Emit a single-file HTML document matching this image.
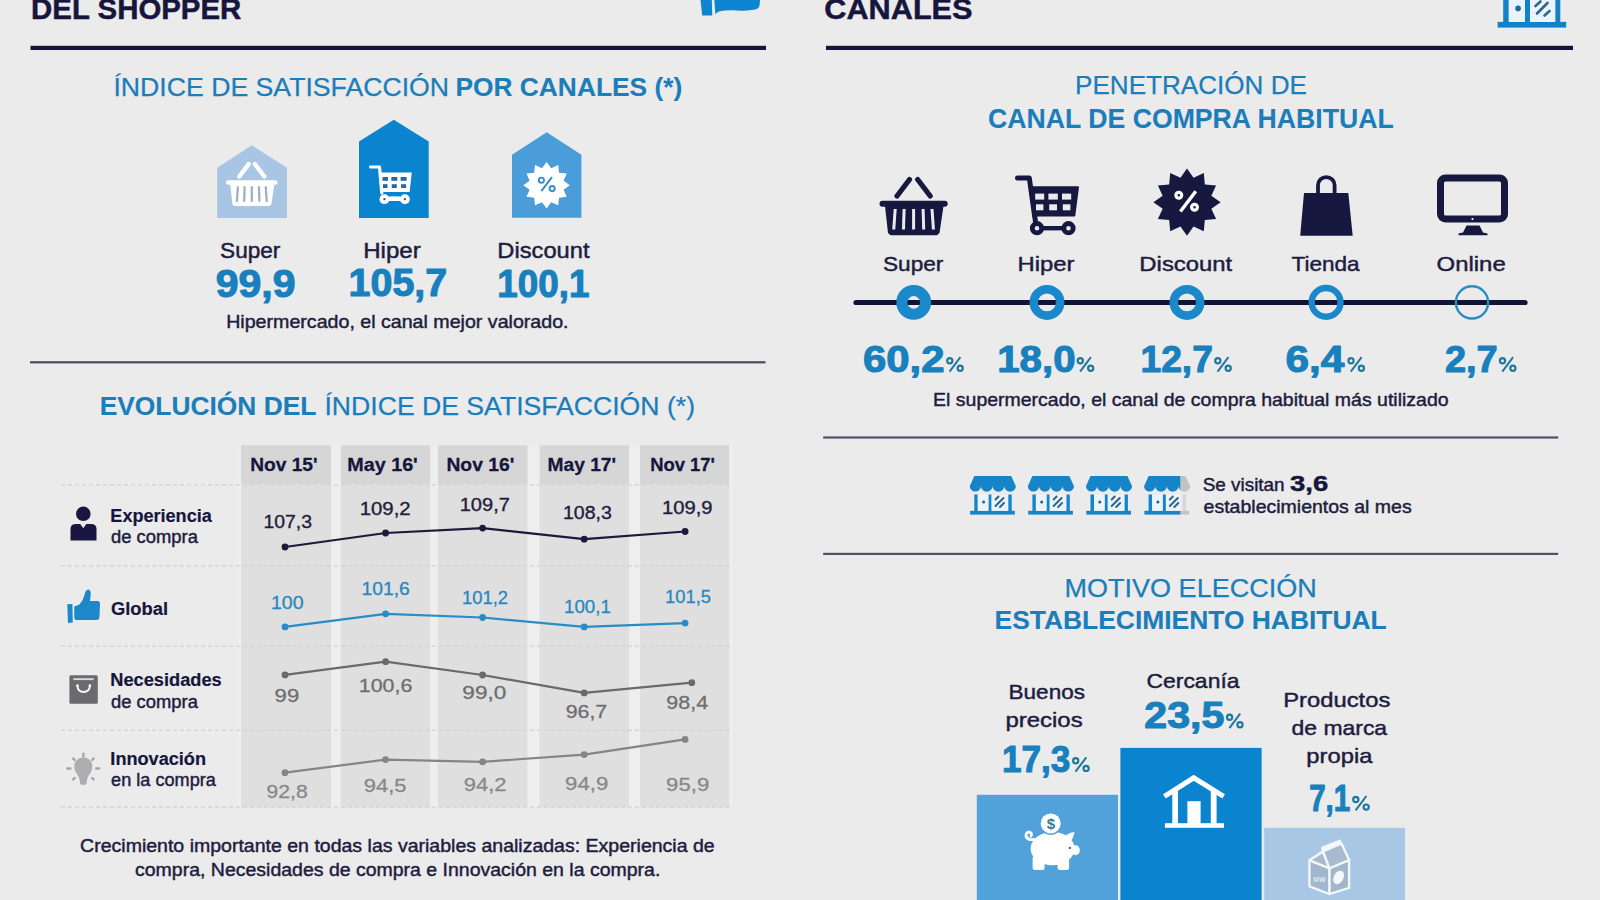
<!DOCTYPE html>
<html><head><meta charset="utf-8"><title>Shopper</title>
<style>html,body{margin:0;padding:0;background:#ebebeb;width:1600px;height:900px;overflow:hidden;font-family:"Liberation Sans",sans-serif;}</style>
</head><body>
<svg width="1600" height="900" viewBox="0 0 1600 900" style="display:block">
<rect x="0" y="0" width="1600" height="900" fill="#ebebeb"/>
<rect x="30.5" y="45.8" width="735.5" height="4.2" fill="#14143a"/>
<rect x="826" y="45.8" width="747" height="4.2" fill="#14143a"/>
<path d="M700.5,0 L711.8,0 L712.3,15.6 L702.2,15.6 Z" fill="#0c86d0"/>
<path d="M714.3,0 L760,0 L759.6,5 Q759,8.6 755,9.6 Q747,11.4 737,10.4 Q726,9.6 719,11.5 Q716.5,12.6 715.4,14.2 Z" fill="#0c86d0"/>
<rect x="1497.6" y="21.9" width="68.6" height="5.7" fill="#1282c8"/>
<rect x="1503.2" y="0" width="5.6" height="22" fill="#1282c8"/>
<rect x="1524.9" y="0" width="5.1" height="22" fill="#1282c8"/>
<rect x="1555.2" y="0" width="5.1" height="22" fill="#1282c8"/>
<rect x="1508.8" y="0" width="16.1" height="21.9" fill="#eaf3f9"/>
<rect x="1530" y="0" width="25.2" height="21.9" fill="#eaf3f9"/>
<circle cx="1518.1" cy="8.4" r="2.8" fill="#1b6aa0"/>
<line x1="1535.5" y1="6" x2="1540.5" y2="1.5" stroke="#2c6791" stroke-width="2.6" stroke-linecap="round"/>
<line x1="1537" y1="13.5" x2="1547.5" y2="3" stroke="#2c6791" stroke-width="2.6" stroke-linecap="round"/>
<line x1="1544.5" y1="15.5" x2="1549.5" y2="11" stroke="#2c6791" stroke-width="2.6" stroke-linecap="round"/>
<polygon points="217.2,167.7 251.7,145.2 287,167.7 287,218 217.2,218" fill="#a8c6e3"/>
<polygon points="359,141.5 393.8,119.8 428.7,141.5 428.7,218 359,218" fill="#0a84cf"/>
<polygon points="512,154.8 546.7,132.2 581.4,154.8 581.4,217.8 512,217.8" fill="#4a9dd8"/>
<line x1="248.70" y1="164.07" x2="239.27" y2="176.52" stroke="#ffffff" stroke-width="4.38" stroke-linecap="round"/>
<line x1="254.90" y1="164.07" x2="264.33" y2="176.52" stroke="#ffffff" stroke-width="4.38" stroke-linecap="round"/>
<rect x="226.05" y="180.15" width="51.49" height="4.53" rx="2.27" fill="#ffffff"/>
<polygon points="230.21,184.07 274.37,184.07 271.35,204.46 269.47,206.12 234.36,206.12 232.47,204.46" fill="#ffffff"/>
<line x1="237.91" y1="186.34" x2="236.82" y2="201.82" stroke="#9fb0c2" stroke-width="2.27" stroke-linecap="butt"/>
<line x1="244.63" y1="186.34" x2="244.17" y2="201.82" stroke="#9fb0c2" stroke-width="2.27" stroke-linecap="butt"/>
<line x1="251.80" y1="186.34" x2="251.80" y2="201.82" stroke="#9fb0c2" stroke-width="2.27" stroke-linecap="butt"/>
<line x1="258.97" y1="186.34" x2="259.43" y2="201.82" stroke="#9fb0c2" stroke-width="2.27" stroke-linecap="butt"/>
<line x1="265.69" y1="186.34" x2="266.78" y2="201.82" stroke="#9fb0c2" stroke-width="2.27" stroke-linecap="butt"/>
<path d="M370.5,167 L379.5,167 L381.8,193" fill="none" stroke="#ffffff" stroke-width="3.2" stroke-linecap="round" stroke-linejoin="round"/>
<path d="M379.3,172.5 L411.8,172.5 L409.6,192 L381.5,192 Z" fill="#ffffff"/>
<rect x="382.5" y="177" width="5.5" height="3.8" fill="#2568a6"/>
<rect x="383.0" y="184.2" width="4.5" height="3.8" fill="#2568a6"/>
<rect x="391.3" y="177" width="6.0" height="3.8" fill="#2568a6"/>
<rect x="391.8" y="184.2" width="5.0" height="3.8" fill="#2568a6"/>
<rect x="400.6" y="177" width="6.0" height="3.8" fill="#2568a6"/>
<rect x="401.1" y="184.2" width="5.0" height="3.8" fill="#2568a6"/>
<path d="M384,197.3 Q394.5,195.3 405,197.3 L405,201 L384,201 Z" fill="#ffffff"/>
<circle cx="384.4" cy="199.2" r="4.9" fill="#ffffff"/>
<circle cx="384.4" cy="199.2" r="1.1" fill="#3b4d5e"/>
<circle cx="404.9" cy="199.2" r="4.9" fill="#ffffff"/>
<circle cx="404.9" cy="199.2" r="1.1" fill="#3b4d5e"/>
<polygon points="546.60,162.00 551.16,168.20 558.20,165.11 559.05,172.75 566.69,173.60 563.60,180.64 569.80,185.20 563.60,189.76 566.69,196.80 559.05,197.65 558.20,205.29 551.16,202.20 546.60,208.40 542.04,202.20 535.00,205.29 534.15,197.65 526.51,196.80 529.60,189.76 523.40,185.20 529.60,180.64 526.51,173.60 534.15,172.75 535.00,165.11 542.04,168.20" fill="#ffffff"/>
<circle cx="541.4" cy="180.2" r="2.6" fill="none" stroke="#3a8cc6" stroke-width="1.9"/>
<circle cx="552.2" cy="188.6" r="2.6" fill="none" stroke="#3a8cc6" stroke-width="1.9"/>
<line x1="552" y1="177.2" x2="541.3" y2="191.2" stroke="#3a8cc6" stroke-width="2"/>
<rect x="30" y="361.2" width="735.5" height="2.2" fill="#4a4a5e"/>
<rect x="238" y="445.3" width="494" height="362.5" fill="#eeeeee"/>
<rect x="241" y="445.3" width="90.0" height="39.2" fill="#d6d6d7"/>
<rect x="241" y="484.5" width="90.0" height="323" fill="#dfdfdf"/>
<rect x="340.7" y="445.3" width="89.5" height="39.2" fill="#d6d6d7"/>
<rect x="340.7" y="484.5" width="89.5" height="323" fill="#dfdfdf"/>
<rect x="437.9" y="445.3" width="89.6" height="39.2" fill="#d6d6d7"/>
<rect x="437.9" y="484.5" width="89.6" height="323" fill="#dfdfdf"/>
<rect x="539.7" y="445.3" width="89.3" height="39.2" fill="#d6d6d7"/>
<rect x="539.7" y="484.5" width="89.3" height="323" fill="#dfdfdf"/>
<rect x="640" y="445.3" width="89.2" height="39.2" fill="#d6d6d7"/>
<rect x="640" y="484.5" width="89.2" height="323" fill="#dfdfdf"/>
<line x1="61" y1="484.9" x2="732" y2="484.9" stroke="#d2d2d4" stroke-width="1.3" stroke-dasharray="4,3"/>
<line x1="61" y1="565.8" x2="732" y2="565.8" stroke="#d2d2d4" stroke-width="1.3" stroke-dasharray="4,3"/>
<line x1="61" y1="646.1" x2="732" y2="646.1" stroke="#d2d2d4" stroke-width="1.3" stroke-dasharray="4,3"/>
<line x1="61" y1="730.3" x2="732" y2="730.3" stroke="#d2d2d4" stroke-width="1.3" stroke-dasharray="4,3"/>
<line x1="61" y1="807.2" x2="732" y2="807.2" stroke="#d2d2d4" stroke-width="1.3" stroke-dasharray="4,3"/>
<polyline points="285.0,547.0 385.6,533.0 482.6,528.1 584.2,539.2 685.1,531.5" fill="none" stroke="#1c1a3b" stroke-width="2.2" stroke-linejoin="round"/>
<circle cx="285.0" cy="547.0" r="3.4" fill="#1c1a3b"/>
<circle cx="385.6" cy="533.0" r="3.4" fill="#1c1a3b"/>
<circle cx="482.6" cy="528.1" r="3.4" fill="#1c1a3b"/>
<circle cx="584.2" cy="539.2" r="3.4" fill="#1c1a3b"/>
<circle cx="685.1" cy="531.5" r="3.4" fill="#1c1a3b"/>
<polyline points="285.0,626.9 385.6,613.8 482.6,617.5 584.2,626.9 685.1,623.1" fill="none" stroke="#2a8cc5" stroke-width="2.2" stroke-linejoin="round"/>
<circle cx="285.0" cy="626.9" r="3.4" fill="#2a8cc5"/>
<circle cx="385.6" cy="613.8" r="3.4" fill="#2a8cc5"/>
<circle cx="482.6" cy="617.5" r="3.4" fill="#2a8cc5"/>
<circle cx="584.2" cy="626.9" r="3.4" fill="#2a8cc5"/>
<circle cx="685.1" cy="623.1" r="3.4" fill="#2a8cc5"/>
<polyline points="285.0,674.9 385.6,661.7 482.6,675.0 584.2,692.9 691.8,682.7" fill="none" stroke="#6a6a6d" stroke-width="2.2" stroke-linejoin="round"/>
<circle cx="285.0" cy="674.9" r="3.4" fill="#6a6a6d"/>
<circle cx="385.6" cy="661.7" r="3.4" fill="#6a6a6d"/>
<circle cx="482.6" cy="675.0" r="3.4" fill="#6a6a6d"/>
<circle cx="584.2" cy="692.9" r="3.4" fill="#6a6a6d"/>
<circle cx="691.8" cy="682.7" r="3.4" fill="#6a6a6d"/>
<polyline points="285.0,772.7 385.6,759.6 482.6,761.8 584.2,754.6 685.1,739.4" fill="none" stroke="#858588" stroke-width="2.2" stroke-linejoin="round"/>
<circle cx="285.0" cy="772.7" r="3.4" fill="#858588"/>
<circle cx="385.6" cy="759.6" r="3.4" fill="#858588"/>
<circle cx="482.6" cy="761.8" r="3.4" fill="#858588"/>
<circle cx="584.2" cy="754.6" r="3.4" fill="#858588"/>
<circle cx="685.1" cy="739.4" r="3.4" fill="#858588"/>
<circle cx="83.3" cy="513.8" r="7.3" fill="#1b1541"/>
<path d="M70.5,540.4 L70.5,529 Q70.5,524 76,524 L80.2,524 L83.3,528.2 L86.3,524 L91,524 Q96.5,524 96.5,529 L96.5,540.4 Z" fill="#1b1541"/>
<path d="M67.3,604.3 L72.4,604 L72.8,622.6 L68,623 Z" fill="#1c88c9"/>
<path d="M74.3,606.5 L79.5,604.5 Q83,601 84.5,595 Q85.5,589.6 88.6,589.6 Q91.3,590.3 90.6,596 L90,601 L97.6,601 Q100.2,601.4 100,604.3 L99.4,617.5 Q99,620 96,620 L76.2,620 Q74.3,620 74.3,618 Z" fill="#1c88c9"/>
<rect x="69.4" y="675.2" width="28.4" height="28.6" rx="1.5" fill="#6b6b6d"/>
<rect x="73.3" y="678.2" width="20.4" height="1.9" fill="#d9d9da"/>
<path d="M77.4,685.9 Q77.8,692 83.5,692 Q89.4,692 89.9,685.9" fill="none" stroke="#f4f4f4" stroke-width="2"/>
<circle cx="77.4" cy="685.6" r="1.3" fill="#ffffff"/><circle cx="89.9" cy="685.6" r="1.3" fill="#ffffff"/>
<path d="M83.3,757.3 A9.2,9.2 0 0 1 92.4,766.5 Q92.4,771 89,775 Q87,777.5 86.8,781 L86.5,784 Q83.3,786.2 80.1,784 L79.8,781 Q79.6,777.5 77.6,775 Q74.2,771 74.2,766.5 A9.2,9.2 0 0 1 83.3,757.3 Z" fill="#adadaf"/>
<line x1="83.4" y1="753.6" x2="83.4" y2="756.2" stroke="#a4a4a6" stroke-width="2.4" stroke-linecap="round"/>
<line x1="73.2" y1="758.6" x2="74.6" y2="760" stroke="#a4a4a6" stroke-width="2.4" stroke-linecap="round"/>
<line x1="93.6" y1="758.6" x2="92.2" y2="760" stroke="#a4a4a6" stroke-width="2.4" stroke-linecap="round"/>
<line x1="67.5" y1="768.5" x2="70.3" y2="768.5" stroke="#a4a4a6" stroke-width="2.4" stroke-linecap="round"/>
<line x1="96.3" y1="768.5" x2="99.1" y2="768.5" stroke="#a4a4a6" stroke-width="2.4" stroke-linecap="round"/>
<line x1="73.2" y1="779.4" x2="74.6" y2="778" stroke="#a4a4a6" stroke-width="2.4" stroke-linecap="round"/>
<line x1="93.6" y1="779.4" x2="92.2" y2="778" stroke="#a4a4a6" stroke-width="2.4" stroke-linecap="round"/>
<line x1="909.50" y1="179.50" x2="897.00" y2="196.00" stroke="#161840" stroke-width="5.20" stroke-linecap="round"/>
<line x1="917.70" y1="179.50" x2="930.20" y2="196.00" stroke="#161840" stroke-width="5.20" stroke-linecap="round"/>
<rect x="879.50" y="200.80" width="68.20" height="6.00" rx="3.00" fill="#161840"/>
<polygon points="885.00,206.00 943.50,206.00 939.50,233.00 937.00,235.20 890.50,235.20 888.00,233.00" fill="#161840"/>
<line x1="895.20" y1="209.00" x2="893.76" y2="229.50" stroke="#ebebeb" stroke-width="3.00" stroke-linecap="butt"/>
<line x1="904.10" y1="209.00" x2="903.50" y2="229.50" stroke="#ebebeb" stroke-width="3.00" stroke-linecap="butt"/>
<line x1="913.60" y1="209.00" x2="913.60" y2="229.50" stroke="#ebebeb" stroke-width="3.00" stroke-linecap="butt"/>
<line x1="923.10" y1="209.00" x2="923.70" y2="229.50" stroke="#ebebeb" stroke-width="3.00" stroke-linecap="butt"/>
<line x1="932.00" y1="209.00" x2="933.44" y2="229.50" stroke="#ebebeb" stroke-width="3.00" stroke-linecap="butt"/>
<path d="M1017.5,178 L1029.3,178 L1034.6,216" fill="none" stroke="#161840" stroke-width="5" stroke-linecap="round" stroke-linejoin="round"/>
<path d="M1030.8,187.2 L1078,187.2 L1074.3,215.6 L1034.3,215.6 Z" fill="#161840" stroke="#161840" stroke-width="2" stroke-linejoin="round"/>
<rect x="1035.2" y="193.6" width="9.0" height="6" fill="#ebebeb"/>
<rect x="1036.0" y="204.3" width="7.4" height="6" fill="#ebebeb"/>
<rect x="1048.4" y="193.6" width="9.4" height="6" fill="#ebebeb"/>
<rect x="1049.2" y="204.3" width="7.8" height="6" fill="#ebebeb"/>
<rect x="1062" y="193.6" width="9.2" height="6" fill="#ebebeb"/>
<rect x="1062.8" y="204.3" width="7.6" height="6" fill="#ebebeb"/>
<path d="M1034.6,215 L1035.5,222" stroke="#161840" stroke-width="5" stroke-linecap="round"/>
<line x1="1041" y1="228.2" x2="1064.5" y2="228.2" stroke="#161840" stroke-width="4.4"/>
<circle cx="1037" cy="228.2" r="4.7" fill="none" stroke="#161840" stroke-width="4.8"/>
<circle cx="1068.5" cy="228.2" r="4.7" fill="none" stroke="#161840" stroke-width="4.8"/>
<polygon points="1187.00,168.60 1193.52,177.86 1203.80,173.10 1204.82,184.38 1216.10,185.40 1211.34,195.68 1220.60,202.20 1211.34,208.72 1216.10,219.00 1204.82,220.02 1203.80,231.30 1193.52,226.54 1187.00,235.80 1180.48,226.54 1170.20,231.30 1169.18,220.02 1157.90,219.00 1162.66,208.72 1153.40,202.20 1162.66,195.68 1157.90,185.40 1169.18,184.38 1170.20,173.10 1180.48,177.86" fill="#161840"/>
<circle cx="1178.8" cy="195.3" r="2.9" fill="none" stroke="#ffffff" stroke-width="3.2"/>
<circle cx="1194.5" cy="207.3" r="2.9" fill="none" stroke="#ffffff" stroke-width="3.2"/>
<line x1="1195.8" y1="191.2" x2="1180.4" y2="211.6" stroke="#ffffff" stroke-width="3.4"/>
<path d="M1318,193.5 L1318,185.3 A8.3,8.3 0 0 1 1334.6,185.3 L1334.6,193.5" fill="none" stroke="#161840" stroke-width="3.8"/>
<path d="M1304,193 L1348.3,193 L1352.7,235.7 L1300.2,235.7 Z" fill="#161840"/>
<rect x="1440.5" y="178" width="64" height="41" rx="5" fill="none" stroke="#161840" stroke-width="7"/>
<circle cx="1472.5" cy="219" r="1.1" fill="#ffffff"/>
<path d="M1466.5,225.5 L1479.5,225.5 L1483,232.5 L1487.5,233.5 L1487.5,235.2 L1458.5,235.2 L1458.5,233.5 L1463,232.5 Z" fill="#161840"/>
<line x1="856" y1="302.5" x2="1525" y2="302.5" stroke="#111436" stroke-width="5.2" stroke-linecap="round"/>
<circle cx="913.7" cy="302.4" r="11.85" fill="none" stroke="#1a88c9" stroke-width="11.10"/>
<circle cx="1047" cy="302.4" r="13.20" fill="none" stroke="#1a88c9" stroke-width="8.60"/>
<circle cx="1187" cy="302.4" r="13.20" fill="none" stroke="#1a88c9" stroke-width="8.60"/>
<circle cx="1326.1" cy="302.4" r="14.40" fill="none" stroke="#1a88c9" stroke-width="6.40"/>
<circle cx="1472" cy="302.4" r="16.10" fill="none" stroke="#2a8cbf" stroke-width="2.40"/>
<rect x="823.2" y="436.4" width="735" height="2.2" fill="#50506a"/>
<rect x="823.2" y="552.8" width="735" height="2.2" fill="#50506a"/>
<defs><clipPath id="clipL"><rect x="0" y="0" width="1180.6" height="900"/></clipPath><clipPath id="clipR"><rect x="1180.6" y="0" width="100" height="900"/></clipPath></defs>
<path d="M974.30,475.90 L1011.20,475.90 L1015.90,486.30 A5.80,5.34 0 0 1 1004.30,486.30 A5.85,5.38 0 0 1 992.60,486.30 A5.85,5.38 0 0 1 980.90,486.30 A5.57,5.13 0 0 1 969.75,486.30 L974.30,475.90 Z" fill="#1584c9"/>
<rect x="974.30" y="494.50" width="3.50" height="17.00" fill="#1584c9"/>
<rect x="988.40" y="494.50" width="3.20" height="17.00" fill="#1584c9"/>
<rect x="1008.20" y="494.50" width="3.50" height="17.00" fill="#1584c9"/>
<rect x="970.10" y="510.80" width="44.70" height="3.80" fill="#1584c9"/>
<rect x="977.80" y="494.50" width="10.60" height="16.30" fill="#e9f3f9"/>
<rect x="991.60" y="494.50" width="16.60" height="16.30" fill="#e9f3f9"/>
<circle cx="983.60" cy="501.90" r="1.5" fill="#2b5f86"/>
<line x1="995.50" y1="499.50" x2="998.50" y2="496.50" stroke="#2d628a" stroke-width="1.9" stroke-linecap="round"/>
<line x1="995.50" y1="506.00" x2="1003.50" y2="498.00" stroke="#2d628a" stroke-width="1.9" stroke-linecap="round"/>
<line x1="1000.00" y1="507.00" x2="1004.00" y2="503.00" stroke="#2d628a" stroke-width="1.9" stroke-linecap="round"/>
<path d="M1032.40,475.90 L1069.30,475.90 L1074.00,486.30 A5.80,5.34 0 0 1 1062.40,486.30 A5.85,5.38 0 0 1 1050.70,486.30 A5.85,5.38 0 0 1 1039.00,486.30 A5.57,5.13 0 0 1 1027.85,486.30 L1032.40,475.90 Z" fill="#1584c9"/>
<rect x="1032.40" y="494.50" width="3.50" height="17.00" fill="#1584c9"/>
<rect x="1046.50" y="494.50" width="3.20" height="17.00" fill="#1584c9"/>
<rect x="1066.30" y="494.50" width="3.50" height="17.00" fill="#1584c9"/>
<rect x="1028.20" y="510.80" width="44.70" height="3.80" fill="#1584c9"/>
<rect x="1035.90" y="494.50" width="10.60" height="16.30" fill="#e9f3f9"/>
<rect x="1049.70" y="494.50" width="16.60" height="16.30" fill="#e9f3f9"/>
<circle cx="1041.70" cy="501.90" r="1.5" fill="#2b5f86"/>
<line x1="1053.60" y1="499.50" x2="1056.60" y2="496.50" stroke="#2d628a" stroke-width="1.9" stroke-linecap="round"/>
<line x1="1053.60" y1="506.00" x2="1061.60" y2="498.00" stroke="#2d628a" stroke-width="1.9" stroke-linecap="round"/>
<line x1="1058.10" y1="507.00" x2="1062.10" y2="503.00" stroke="#2d628a" stroke-width="1.9" stroke-linecap="round"/>
<path d="M1090.50,475.90 L1127.40,475.90 L1132.10,486.30 A5.80,5.34 0 0 1 1120.50,486.30 A5.85,5.38 0 0 1 1108.80,486.30 A5.85,5.38 0 0 1 1097.10,486.30 A5.57,5.13 0 0 1 1085.95,486.30 L1090.50,475.90 Z" fill="#1584c9"/>
<rect x="1090.50" y="494.50" width="3.50" height="17.00" fill="#1584c9"/>
<rect x="1104.60" y="494.50" width="3.20" height="17.00" fill="#1584c9"/>
<rect x="1124.40" y="494.50" width="3.50" height="17.00" fill="#1584c9"/>
<rect x="1086.30" y="510.80" width="44.70" height="3.80" fill="#1584c9"/>
<rect x="1094.00" y="494.50" width="10.60" height="16.30" fill="#e9f3f9"/>
<rect x="1107.80" y="494.50" width="16.60" height="16.30" fill="#e9f3f9"/>
<circle cx="1099.80" cy="501.90" r="1.5" fill="#2b5f86"/>
<line x1="1111.70" y1="499.50" x2="1114.70" y2="496.50" stroke="#2d628a" stroke-width="1.9" stroke-linecap="round"/>
<line x1="1111.70" y1="506.00" x2="1119.70" y2="498.00" stroke="#2d628a" stroke-width="1.9" stroke-linecap="round"/>
<line x1="1116.20" y1="507.00" x2="1120.20" y2="503.00" stroke="#2d628a" stroke-width="1.9" stroke-linecap="round"/>
<g clip-path="url(#clipL)"><path d="M1148.60,475.90 L1185.50,475.90 L1190.20,486.30 A5.80,5.34 0 0 1 1178.60,486.30 A5.85,5.38 0 0 1 1166.90,486.30 A5.85,5.38 0 0 1 1155.20,486.30 A5.57,5.13 0 0 1 1144.05,486.30 L1148.60,475.90 Z" fill="#1584c9"/>
<rect x="1148.60" y="494.50" width="3.50" height="17.00" fill="#1584c9"/>
<rect x="1162.70" y="494.50" width="3.20" height="17.00" fill="#1584c9"/>
<rect x="1182.50" y="494.50" width="3.50" height="17.00" fill="#1584c9"/>
<rect x="1144.40" y="510.80" width="44.70" height="3.80" fill="#1584c9"/>
<rect x="1152.10" y="494.50" width="10.60" height="16.30" fill="#e9f3f9"/>
<rect x="1165.90" y="494.50" width="16.60" height="16.30" fill="#e9f3f9"/>
<circle cx="1157.90" cy="501.90" r="1.5" fill="#2b5f86"/>
<line x1="1169.80" y1="499.50" x2="1172.80" y2="496.50" stroke="#2d628a" stroke-width="1.9" stroke-linecap="round"/>
<line x1="1169.80" y1="506.00" x2="1177.80" y2="498.00" stroke="#2d628a" stroke-width="1.9" stroke-linecap="round"/>
<line x1="1174.30" y1="507.00" x2="1178.30" y2="503.00" stroke="#2d628a" stroke-width="1.9" stroke-linecap="round"/></g>
<g clip-path="url(#clipR)"><path d="M1148.60,475.90 L1185.50,475.90 L1190.20,486.30 A5.80,5.34 0 0 1 1178.60,486.30 A5.85,5.38 0 0 1 1166.90,486.30 A5.85,5.38 0 0 1 1155.20,486.30 A5.57,5.13 0 0 1 1144.05,486.30 L1148.60,475.90 Z" fill="#c3c3c5"/>
<rect x="1148.60" y="494.50" width="3.50" height="17.00" fill="#c3c3c5"/>
<rect x="1162.70" y="494.50" width="3.20" height="17.00" fill="#c3c3c5"/>
<rect x="1182.50" y="494.50" width="3.50" height="17.00" fill="#d6d6d8"/>
<rect x="1144.40" y="510.80" width="44.70" height="3.80" fill="#c3c3c5"/>
<rect x="1152.10" y="494.50" width="10.60" height="16.30" fill="#ebebeb"/>
<rect x="1165.90" y="494.50" width="16.60" height="16.30" fill="#ebebeb"/>
<circle cx="1157.90" cy="501.90" r="1.5" fill="#2b5f86"/>
<line x1="1169.80" y1="499.50" x2="1172.80" y2="496.50" stroke="#2d628a" stroke-width="1.9" stroke-linecap="round"/>
<line x1="1169.80" y1="506.00" x2="1177.80" y2="498.00" stroke="#2d628a" stroke-width="1.9" stroke-linecap="round"/>
<line x1="1174.30" y1="507.00" x2="1178.30" y2="503.00" stroke="#2d628a" stroke-width="1.9" stroke-linecap="round"/></g>
<rect x="976.8" y="794.8" width="141.2" height="106" fill="#51a2da"/>
<rect x="1120.4" y="747.9" width="141.2" height="153" fill="#0a84cf"/>
<rect x="1264.2" y="827.8" width="140.8" height="73" fill="#a8c7e4"/>
<ellipse cx="1052.6" cy="848.6" rx="22" ry="16.6" fill="#ffffff"/>
<ellipse cx="1075.6" cy="850.2" rx="4.2" ry="5" fill="#ffffff"/>
<path d="M1063.5,840 Q1066,832.5 1074.6,832 Q1073.5,838 1070,842.5 Z" fill="#ffffff"/>
<rect x="1032.6" y="856" width="12" height="14" rx="2.5" fill="#ffffff"/>
<rect x="1057.6" y="856" width="11.5" height="14" rx="2.5" fill="#ffffff"/>
<path d="M1034,839.5 Q1028,840.5 1026,836.5 Q1025.5,832 1029.5,832 Q1032.5,833 1031,836" fill="none" stroke="#ffffff" stroke-width="2.8" stroke-linecap="round"/>
<circle cx="1050.7" cy="823.4" r="11.6" fill="#51a2da"/>
<circle cx="1050.7" cy="823.4" r="10" fill="#ffffff"/>
<text x="1050.9" y="829.2" font-family="Liberation Sans, sans-serif" font-weight="bold" font-size="15" fill="#2c7c9c" text-anchor="middle">$</text>
<circle cx="1069.9" cy="847.9" r="1.2" fill="#6a6a5a"/>
<path d="M1166.5,795 L1193.7,777.8 L1221.5,795" fill="none" stroke="#ffffff" stroke-width="5" stroke-linecap="square" stroke-linejoin="miter"/>
<rect x="1172.3" y="790" width="5.7" height="34" fill="#ffffff"/>
<rect x="1210.8" y="790" width="5.8" height="34" fill="#ffffff"/>
<rect x="1187.4" y="801.2" width="13.2" height="23" fill="#ffffff"/>
<rect x="1164.9" y="823.2" width="59.1" height="4.6" fill="#ffffff"/>
<polygon points="1309.4,860.3 1329.5,868.3 1329.5,894 1309.4,886.4" fill="#a2b7cc" stroke="#f4f8fb" stroke-width="2.3" stroke-linejoin="round"/>
<polygon points="1329.5,868.3 1349.1,860 1349.1,887.9 1329.5,894" fill="#a2b7cc" stroke="#f4f8fb" stroke-width="2.3" stroke-linejoin="round"/>
<polygon points="1309.4,860.3 1323,851.5 1329.5,868.3" fill="#a6bbd0" stroke="#f4f8fb" stroke-width="2.3" stroke-linejoin="round"/>
<polygon points="1323,851.5 1341.5,843.5 1349.1,860 1329.5,868.3" fill="#a6bbd0" stroke="#f4f8fb" stroke-width="2.3" stroke-linejoin="round"/>
<polygon points="1322.2,851 1321.8,847.4 1340.2,840 1341.6,843.6" fill="#f4f8fb" stroke="#f4f8fb" stroke-width="1.2" stroke-linejoin="round"/>
<ellipse cx="1338.6" cy="877.4" rx="4.8" ry="7.2" transform="rotate(28 1338.6 877.4)" fill="#f4f8fb"/>
<text x="1319.6" y="881.5" font-family="Liberation Sans, sans-serif" font-weight="bold" font-size="7.5" fill="#dfe8f1" text-anchor="middle" textLength="12" lengthAdjust="spacingAndGlyphs">MW</text>
<g font-family="Liberation Sans, sans-serif">
<text x="31.12" y="18.70" font-size="30.00" font-weight="bold" fill="#16163d" stroke="#16163d" stroke-width="0.5" stroke-linejoin="round" textLength="210.19" lengthAdjust="spacingAndGlyphs">DEL SHOPPER</text>
<text x="113.46" y="95.60" font-size="25.71" fill="#1b7db9" stroke="#1b7db9" stroke-width="0.25" stroke-linejoin="round" textLength="335.59" lengthAdjust="spacingAndGlyphs">ÍNDICE DE SATISFACCIÓN</text>
<text x="455.40" y="95.60" font-size="25.71" font-weight="bold" fill="#1b7db9" stroke="#1b7db9" stroke-width="0.1" stroke-linejoin="round" textLength="226.90" lengthAdjust="spacingAndGlyphs">POR CANALES (*)</text>
<text x="220.12" y="258.20" font-size="21.71" fill="#1e1d40" stroke="#1e1d40" stroke-width="0.45" stroke-linejoin="round" textLength="60.27" lengthAdjust="spacingAndGlyphs">Super</text>
<text x="363.24" y="258.30" font-size="21.71" fill="#1e1d40" stroke="#1e1d40" stroke-width="0.45" stroke-linejoin="round" textLength="57.55" lengthAdjust="spacingAndGlyphs">Hiper</text>
<text x="497.38" y="258.30" font-size="21.71" fill="#1e1d40" stroke="#1e1d40" stroke-width="0.45" stroke-linejoin="round" textLength="92.12" lengthAdjust="spacingAndGlyphs">Discount</text>
<text x="215.77" y="296.70" font-size="37.86" font-weight="bold" fill="#1880bd" stroke="#1880bd" stroke-width="1.1" stroke-linejoin="round" textLength="79.70" lengthAdjust="spacingAndGlyphs">99,9</text>
<text x="348.59" y="296.40" font-size="37.86" font-weight="bold" fill="#1880bd" stroke="#1880bd" stroke-width="1.1" stroke-linejoin="round" textLength="98.56" lengthAdjust="spacingAndGlyphs">105,7</text>
<text x="497.25" y="296.50" font-size="37.86" font-weight="bold" fill="#1880bd" stroke="#1880bd" stroke-width="1.1" stroke-linejoin="round" textLength="92.12" lengthAdjust="spacingAndGlyphs">100,1</text>
<text x="226.19" y="328.30" font-size="18.57" fill="#1e1d40" stroke="#1e1d40" stroke-width="0.45" stroke-linejoin="round" textLength="342.35" lengthAdjust="spacingAndGlyphs">Hipermercado, el canal mejor valorado.</text>
<text x="99.65" y="414.50" font-size="26.00" font-weight="bold" fill="#1b7db9" stroke="#1b7db9" stroke-width="0.1" stroke-linejoin="round" textLength="216.75" lengthAdjust="spacingAndGlyphs">EVOLUCIÓN DEL</text>
<text x="324.46" y="414.50" font-size="26.00" fill="#1b7db9" stroke="#1b7db9" stroke-width="0.25" stroke-linejoin="round" textLength="370.54" lengthAdjust="spacingAndGlyphs">ÍNDICE DE SATISFACCIÓN (*)</text>
<text x="250.25" y="471.00" font-size="19.00" font-weight="bold" fill="#16163d" stroke="#16163d" stroke-width="0.3" stroke-linejoin="round" textLength="67.26" lengthAdjust="spacingAndGlyphs">Nov 15'</text>
<text x="347.21" y="471.00" font-size="19.00" font-weight="bold" fill="#16163d" stroke="#16163d" stroke-width="0.3" stroke-linejoin="round" textLength="70.63" lengthAdjust="spacingAndGlyphs">May 16'</text>
<text x="446.44" y="471.00" font-size="19.00" font-weight="bold" fill="#16163d" stroke="#16163d" stroke-width="0.3" stroke-linejoin="round" textLength="67.88" lengthAdjust="spacingAndGlyphs">Nov 16'</text>
<text x="547.55" y="471.00" font-size="19.00" font-weight="bold" fill="#16163d" stroke="#16163d" stroke-width="0.3" stroke-linejoin="round" textLength="68.56" lengthAdjust="spacingAndGlyphs">May 17'</text>
<text x="650.20" y="471.00" font-size="19.00" font-weight="bold" fill="#16163d" stroke="#16163d" stroke-width="0.3" stroke-linejoin="round" textLength="64.78" lengthAdjust="spacingAndGlyphs">Nov 17'</text>
<text x="110.37" y="521.70" font-size="18.29" font-weight="bold" fill="#16163d" stroke="#16163d" stroke-width="0.2" stroke-linejoin="round" textLength="101.41" lengthAdjust="spacingAndGlyphs">Experiencia</text>
<text x="111.05" y="543.30" font-size="18.29" fill="#1e1d40" stroke="#1e1d40" stroke-width="0.45" stroke-linejoin="round" textLength="86.91" lengthAdjust="spacingAndGlyphs">de compra</text>
<text x="110.93" y="615.00" font-size="18.29" font-weight="bold" fill="#16163d" stroke="#16163d" stroke-width="0.2" stroke-linejoin="round" textLength="57.06" lengthAdjust="spacingAndGlyphs">Global</text>
<text x="110.36" y="686.30" font-size="18.29" font-weight="bold" fill="#16163d" stroke="#16163d" stroke-width="0.2" stroke-linejoin="round" textLength="111.27" lengthAdjust="spacingAndGlyphs">Necesidades</text>
<text x="111.05" y="708.00" font-size="18.29" fill="#1e1d40" stroke="#1e1d40" stroke-width="0.45" stroke-linejoin="round" textLength="86.91" lengthAdjust="spacingAndGlyphs">de compra</text>
<text x="110.37" y="765.00" font-size="18.29" font-weight="bold" fill="#16163d" stroke="#16163d" stroke-width="0.2" stroke-linejoin="round" textLength="95.61" lengthAdjust="spacingAndGlyphs">Innovación</text>
<text x="111.06" y="786.40" font-size="18.29" fill="#1e1d40" stroke="#1e1d40" stroke-width="0.45" stroke-linejoin="round" textLength="104.80" lengthAdjust="spacingAndGlyphs">en la compra</text>
<text x="263.46" y="528.10" font-size="18.57" fill="#22203d" stroke="#22203d" stroke-width="0.35" stroke-linejoin="round" textLength="48.55" lengthAdjust="spacingAndGlyphs">107,3</text>
<text x="359.70" y="515.00" font-size="18.57" fill="#22203d" stroke="#22203d" stroke-width="0.35" stroke-linejoin="round" textLength="50.95" lengthAdjust="spacingAndGlyphs">109,2</text>
<text x="459.72" y="510.80" font-size="18.57" fill="#22203d" stroke="#22203d" stroke-width="0.35" stroke-linejoin="round" textLength="50.11" lengthAdjust="spacingAndGlyphs">109,7</text>
<text x="562.95" y="518.70" font-size="18.57" fill="#22203d" stroke="#22203d" stroke-width="0.35" stroke-linejoin="round" textLength="48.86" lengthAdjust="spacingAndGlyphs">108,3</text>
<text x="662.12" y="514.00" font-size="18.57" fill="#22203d" stroke="#22203d" stroke-width="0.35" stroke-linejoin="round" textLength="50.43" lengthAdjust="spacingAndGlyphs">109,9</text>
<text x="270.92" y="609.30" font-size="18.57" fill="#2a87c0" stroke="#2a87c0" stroke-width="0.3" stroke-linejoin="round" textLength="32.71" lengthAdjust="spacingAndGlyphs">100</text>
<text x="361.44" y="594.50" font-size="18.57" fill="#2a87c0" stroke="#2a87c0" stroke-width="0.3" stroke-linejoin="round" textLength="48.39" lengthAdjust="spacingAndGlyphs">101,6</text>
<text x="462.00" y="603.70" font-size="18.57" fill="#2a87c0" stroke="#2a87c0" stroke-width="0.3" stroke-linejoin="round" textLength="46.10" lengthAdjust="spacingAndGlyphs">101,2</text>
<text x="563.98" y="613.10" font-size="18.57" fill="#2a87c0" stroke="#2a87c0" stroke-width="0.3" stroke-linejoin="round" textLength="46.93" lengthAdjust="spacingAndGlyphs">100,1</text>
<text x="665.00" y="602.70" font-size="18.57" fill="#2a87c0" stroke="#2a87c0" stroke-width="0.3" stroke-linejoin="round" textLength="45.99" lengthAdjust="spacingAndGlyphs">101,5</text>
<text x="274.61" y="701.90" font-size="18.57" fill="#6e6e71" stroke="#6e6e71" stroke-width="0.3" stroke-linejoin="round" textLength="24.64" lengthAdjust="spacingAndGlyphs">99</text>
<text x="358.81" y="691.70" font-size="18.57" fill="#6e6e71" stroke="#6e6e71" stroke-width="0.3" stroke-linejoin="round" textLength="53.61" lengthAdjust="spacingAndGlyphs">100,6</text>
<text x="462.39" y="699.20" font-size="18.57" fill="#6e6e71" stroke="#6e6e71" stroke-width="0.3" stroke-linejoin="round" textLength="43.82" lengthAdjust="spacingAndGlyphs">99,0</text>
<text x="565.65" y="718.40" font-size="18.57" fill="#6e6e71" stroke="#6e6e71" stroke-width="0.3" stroke-linejoin="round" textLength="41.57" lengthAdjust="spacingAndGlyphs">96,7</text>
<text x="666.34" y="709.40" font-size="18.57" fill="#6e6e71" stroke="#6e6e71" stroke-width="0.3" stroke-linejoin="round" textLength="41.84" lengthAdjust="spacingAndGlyphs">98,4</text>
<text x="266.56" y="797.70" font-size="18.57" fill="#88888b" stroke="#88888b" stroke-width="0.3" stroke-linejoin="round" textLength="41.15" lengthAdjust="spacingAndGlyphs">92,8</text>
<text x="363.82" y="791.70" font-size="18.57" fill="#88888b" stroke="#88888b" stroke-width="0.3" stroke-linejoin="round" textLength="42.72" lengthAdjust="spacingAndGlyphs">94,5</text>
<text x="463.82" y="790.80" font-size="18.57" fill="#88888b" stroke="#88888b" stroke-width="0.3" stroke-linejoin="round" textLength="42.72" lengthAdjust="spacingAndGlyphs">94,2</text>
<text x="565.11" y="790.10" font-size="18.57" fill="#88888b" stroke="#88888b" stroke-width="0.3" stroke-linejoin="round" textLength="43.14" lengthAdjust="spacingAndGlyphs">94,9</text>
<text x="666.11" y="791.00" font-size="18.57" fill="#88888b" stroke="#88888b" stroke-width="0.3" stroke-linejoin="round" textLength="43.14" lengthAdjust="spacingAndGlyphs">95,9</text>
<text x="80.11" y="852.30" font-size="18.29" fill="#1e1d40" stroke="#1e1d40" stroke-width="0.45" stroke-linejoin="round" textLength="634.56" lengthAdjust="spacingAndGlyphs">Crecimiento importante en todas las variables analizadas: Experiencia de</text>
<text x="135.02" y="875.70" font-size="18.29" fill="#1e1d40" stroke="#1e1d40" stroke-width="0.45" stroke-linejoin="round" textLength="525.32" lengthAdjust="spacingAndGlyphs">compra, Necesidades de compra e Innovación en la compra.</text>
<text x="824.29" y="18.75" font-size="30.00" font-weight="bold" fill="#16163d" stroke="#16163d" stroke-width="0.5" stroke-linejoin="round" textLength="148.27" lengthAdjust="spacingAndGlyphs">CANALES</text>
<text x="1075.09" y="94.20" font-size="26.00" fill="#1b7db9" stroke="#1b7db9" stroke-width="0.25" stroke-linejoin="round" textLength="231.78" lengthAdjust="spacingAndGlyphs">PENETRACIÓN DE</text>
<text x="988.12" y="127.60" font-size="27.00" font-weight="bold" fill="#1b7db9" stroke="#1b7db9" stroke-width="0.1" stroke-linejoin="round" textLength="405.58" lengthAdjust="spacingAndGlyphs">CANAL DE COMPRA HABITUAL</text>
<text x="883.02" y="271.00" font-size="20.43" fill="#1e1d40" stroke="#1e1d40" stroke-width="0.45" stroke-linejoin="round" textLength="60.37" lengthAdjust="spacingAndGlyphs">Super</text>
<text x="1017.56" y="271.00" font-size="20.43" fill="#1e1d40" stroke="#1e1d40" stroke-width="0.45" stroke-linejoin="round" textLength="57.03" lengthAdjust="spacingAndGlyphs">Hiper</text>
<text x="1139.36" y="271.00" font-size="20.43" fill="#1e1d40" stroke="#1e1d40" stroke-width="0.45" stroke-linejoin="round" textLength="92.83" lengthAdjust="spacingAndGlyphs">Discount</text>
<text x="1291.57" y="271.00" font-size="20.43" fill="#1e1d40" stroke="#1e1d40" stroke-width="0.45" stroke-linejoin="round" textLength="68.06" lengthAdjust="spacingAndGlyphs">Tienda</text>
<text x="1436.60" y="271.00" font-size="20.43" fill="#1e1d40" stroke="#1e1d40" stroke-width="0.45" stroke-linejoin="round" textLength="69.14" lengthAdjust="spacingAndGlyphs">Online</text>
<text x="862.99" y="371.90" font-size="37.57" font-weight="bold" fill="#1880bd" stroke="#1880bd" stroke-width="1.1" stroke-linejoin="round" textLength="81.50" lengthAdjust="spacingAndGlyphs">60,2</text>
<text x="997.23" y="371.90" font-size="37.57" font-weight="bold" fill="#1880bd" stroke="#1880bd" stroke-width="1.1" stroke-linejoin="round" textLength="78.35" lengthAdjust="spacingAndGlyphs">18,0</text>
<text x="1140.42" y="371.90" font-size="37.57" font-weight="bold" fill="#1880bd" stroke="#1880bd" stroke-width="1.1" stroke-linejoin="round" textLength="72.54" lengthAdjust="spacingAndGlyphs">12,7</text>
<text x="1285.48" y="371.90" font-size="37.57" font-weight="bold" fill="#1880bd" stroke="#1880bd" stroke-width="1.1" stroke-linejoin="round" textLength="58.91" lengthAdjust="spacingAndGlyphs">6,4</text>
<text x="1444.96" y="371.90" font-size="37.57" font-weight="bold" fill="#1880bd" stroke="#1880bd" stroke-width="1.1" stroke-linejoin="round" textLength="52.72" lengthAdjust="spacingAndGlyphs">2,7</text>
<text x="933.10" y="405.80" font-size="18.57" fill="#1e1d40" stroke="#1e1d40" stroke-width="0.45" stroke-linejoin="round" textLength="515.46" lengthAdjust="spacingAndGlyphs">El supermercado, el canal de compra habitual más utilizado</text>
<text x="1202.73" y="491.00" font-size="18.57" fill="#1e1d40" stroke="#1e1d40" stroke-width="0.45" stroke-linejoin="round" textLength="81.90" lengthAdjust="spacingAndGlyphs">Se visitan</text>
<text x="1290.12" y="491.00" font-size="22.86" font-weight="bold" fill="#16163d" stroke="#16163d" stroke-width="0.5" stroke-linejoin="round" textLength="38.11" lengthAdjust="spacingAndGlyphs">3,6</text>
<text x="1203.62" y="512.50" font-size="18.57" fill="#1e1d40" stroke="#1e1d40" stroke-width="0.45" stroke-linejoin="round" textLength="208.07" lengthAdjust="spacingAndGlyphs">establecimientos al mes</text>
<text x="1064.41" y="597.30" font-size="26.43" fill="#1b7db9" stroke="#1b7db9" stroke-width="0.25" stroke-linejoin="round" textLength="252.47" lengthAdjust="spacingAndGlyphs">MOTIVO ELECCIÓN</text>
<text x="994.60" y="629.00" font-size="26.00" font-weight="bold" fill="#1b7db9" stroke="#1b7db9" stroke-width="0.1" stroke-linejoin="round" textLength="392.10" lengthAdjust="spacingAndGlyphs">ESTABLECIMIENTO HABITUAL</text>
<text x="1008.56" y="698.90" font-size="21.14" fill="#1e1d40" stroke="#1e1d40" stroke-width="0.45" stroke-linejoin="round" textLength="76.41" lengthAdjust="spacingAndGlyphs">Buenos</text>
<text x="1005.43" y="726.90" font-size="21.14" fill="#1e1d40" stroke="#1e1d40" stroke-width="0.45" stroke-linejoin="round" textLength="77.19" lengthAdjust="spacingAndGlyphs">precios</text>
<text x="1001.96" y="772.00" font-size="36.71" font-weight="bold" fill="#1880bd" stroke="#1880bd" stroke-width="1.1" stroke-linejoin="round" textLength="68.27" lengthAdjust="spacingAndGlyphs">17,3</text>
<text x="1146.45" y="687.70" font-size="21.14" fill="#1e1d40" stroke="#1e1d40" stroke-width="0.45" stroke-linejoin="round" textLength="93.08" lengthAdjust="spacingAndGlyphs">Cercanía</text>
<text x="1144.27" y="728.40" font-size="36.71" font-weight="bold" fill="#1880bd" stroke="#1880bd" stroke-width="1.1" stroke-linejoin="round" textLength="80.01" lengthAdjust="spacingAndGlyphs">23,5</text>
<text x="1283.27" y="706.80" font-size="21.14" fill="#1e1d40" stroke="#1e1d40" stroke-width="0.45" stroke-linejoin="round" textLength="107.05" lengthAdjust="spacingAndGlyphs">Productos</text>
<text x="1291.51" y="735.20" font-size="21.14" fill="#1e1d40" stroke="#1e1d40" stroke-width="0.45" stroke-linejoin="round" textLength="95.62" lengthAdjust="spacingAndGlyphs">de marca</text>
<text x="1306.34" y="762.60" font-size="21.14" fill="#1e1d40" stroke="#1e1d40" stroke-width="0.45" stroke-linejoin="round" textLength="66.08" lengthAdjust="spacingAndGlyphs">propia</text>
<text x="1309.13" y="810.70" font-size="36.71" font-weight="bold" fill="#1880bd" stroke="#1880bd" stroke-width="1.1" stroke-linejoin="round" textLength="41.06" lengthAdjust="spacingAndGlyphs">7,1</text>
</g>
<circle cx="949.80" cy="360.70" r="2.6" fill="none" stroke="#21779f" stroke-width="2.2"/>
<circle cx="960.20" cy="368.30" r="2.6" fill="none" stroke="#21779f" stroke-width="2.2"/>
<line x1="960.40" y1="357.20" x2="949.60" y2="371.60" stroke="#21779f" stroke-width="2"/>
<circle cx="1080.30" cy="360.70" r="2.6" fill="none" stroke="#21779f" stroke-width="2.2"/>
<circle cx="1090.70" cy="368.30" r="2.6" fill="none" stroke="#21779f" stroke-width="2.2"/>
<line x1="1090.90" y1="357.20" x2="1080.10" y2="371.60" stroke="#21779f" stroke-width="2"/>
<circle cx="1217.80" cy="360.70" r="2.6" fill="none" stroke="#21779f" stroke-width="2.2"/>
<circle cx="1228.20" cy="368.30" r="2.6" fill="none" stroke="#21779f" stroke-width="2.2"/>
<line x1="1228.40" y1="357.20" x2="1217.60" y2="371.60" stroke="#21779f" stroke-width="2"/>
<circle cx="1351.00" cy="360.70" r="2.6" fill="none" stroke="#21779f" stroke-width="2.2"/>
<circle cx="1361.40" cy="368.30" r="2.6" fill="none" stroke="#21779f" stroke-width="2.2"/>
<line x1="1361.60" y1="357.20" x2="1350.80" y2="371.60" stroke="#21779f" stroke-width="2"/>
<circle cx="1502.50" cy="360.70" r="2.6" fill="none" stroke="#21779f" stroke-width="2.2"/>
<circle cx="1512.90" cy="368.30" r="2.6" fill="none" stroke="#21779f" stroke-width="2.2"/>
<line x1="1513.10" y1="357.20" x2="1502.30" y2="371.60" stroke="#21779f" stroke-width="2"/>
<circle cx="1075.70" cy="760.80" r="2.6" fill="none" stroke="#21779f" stroke-width="2.2"/>
<circle cx="1086.10" cy="768.40" r="2.6" fill="none" stroke="#21779f" stroke-width="2.2"/>
<line x1="1086.30" y1="757.30" x2="1075.50" y2="771.70" stroke="#21779f" stroke-width="2"/>
<circle cx="1229.60" cy="717.20" r="2.6" fill="none" stroke="#21779f" stroke-width="2.2"/>
<circle cx="1240.00" cy="724.80" r="2.6" fill="none" stroke="#21779f" stroke-width="2.2"/>
<line x1="1240.20" y1="713.70" x2="1229.40" y2="728.10" stroke="#21779f" stroke-width="2"/>
<circle cx="1355.80" cy="799.50" r="2.6" fill="none" stroke="#21779f" stroke-width="2.2"/>
<circle cx="1366.20" cy="807.10" r="2.6" fill="none" stroke="#21779f" stroke-width="2.2"/>
<line x1="1366.40" y1="796.00" x2="1355.60" y2="810.40" stroke="#21779f" stroke-width="2"/>
</svg>
</body></html>
